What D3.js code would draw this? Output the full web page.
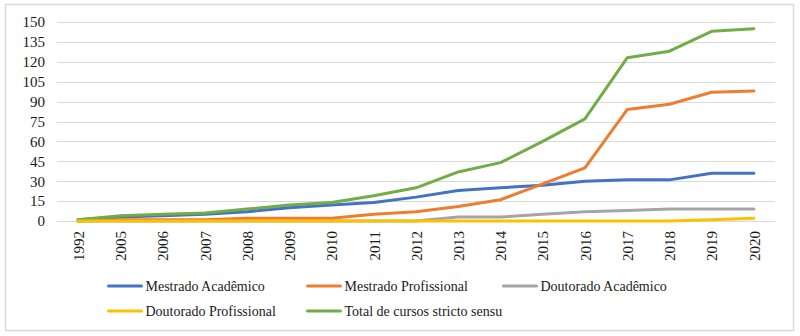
<!DOCTYPE html>
<html>
<head>
<meta charset="utf-8">
<script src="https://cdn.jsdelivr.net/npm/d3@7"></script>
<style>
  body { margin: 0; background: #fff; }
  text { font-family: "Liberation Serif", "Times New Roman", serif; }
</style>
</head>
<body>
<svg id="chart" width="800" height="336"></svg>
<script>
var years = ["1992","2005","2006","2007","2008","2009","2010","2011","2012","2013","2014","2015","2016","2017","2018","2019","2020"];
var mestradoAcademico    = [1, 3, 4, 5, 7, 10, 12, 14, 18, 23, 25, 27, 30, 31, 31, 36, 36];
var mestradoProfissional = [0, 1, 1, 1, 2, 2, 2, 5, 7, 11, 16, 28, 40, 84, 88, 97, 98];
var doutoradoAcademico   = [0, 0, 0, 0, 0, 0, 0, 0, 0, 3, 3, 5, 7, 8, 9, 9, 9];
var doutoradoProfissional= [0, 0, 0, 0, 0, 0, 0, 0, 0, 0, 0, 0, 0, 0, 0, 1, 2];
var totalCursos          = [1, 4, 5, 6, 9, 12, 14, 19, 25, 37, 44, 60, 77, 123, 128, 143, 145];
var yTicks = [0, 15, 30, 45, 60, 75, 90, 105, 120, 135, 150];

// drawing order: last on top
var series = [
  {name: "Doutorado Acadêmico", values: doutoradoAcademico, color: "#A5A5A5"},
  {name: "Mestrado Acadêmico", values: mestradoAcademico, color: "#4472C4"},
  {name: "Mestrado Profissional", values: mestradoProfissional, color: "#ED7D31"},
  {name: "Total de cursos stricto sensu", values: totalCursos, color: "#70AD47"},
  {name: "Doutorado Profissional", values: doutoradoProfissional, color: "#FFC000"}
];

var svg = d3.select("#chart");

// outer frame
svg.append("rect")
  .attr("x", 5.5).attr("y", 4.5)
  .attr("width", 788).attr("height", 326)
  .attr("fill", "none").attr("stroke", "#d9d9d9").attr("stroke-width", 1.5);

var plotLeft = 57, plotRight = 775, plotTop = 22, plotBottom = 221;

var x = d3.scalePoint().domain(years).range([plotLeft, plotRight]).padding(0.5);
var y = d3.scaleLinear().domain([0, 150]).range([plotBottom, plotTop]);

// gridlines
svg.append("g").selectAll("line").data(yTicks).enter().append("line")
  .attr("x1", plotLeft).attr("x2", plotRight)
  .attr("y1", function(d) { return Math.round(y(d)) + 0.5; })
  .attr("y2", function(d) { return Math.round(y(d)) + 0.5; })
  .attr("stroke", "#d9d9d9").attr("stroke-width", 1.2);

// y axis labels
var yAxis = svg.append("g")
  .attr("transform", "translate(" + (plotLeft - 12) + ",0)")
  .call(d3.axisLeft(y).tickValues(yTicks).tickSize(0).tickPadding(0));
yAxis.attr("font-family", null);
yAxis.select(".domain").remove();
yAxis.selectAll("text")
  .attr("font-size", 15).attr("fill", "#1a1a1a");

// x axis labels (rotated)
var xAxis = svg.append("g")
  .attr("transform", "translate(0," + plotBottom + ")")
  .call(d3.axisBottom(x).tickSize(0).tickPadding(0));
xAxis.attr("font-family", null);
xAxis.select(".domain").remove();
xAxis.selectAll("text")
  .attr("font-size", 15).attr("fill", "#1a1a1a")
  .attr("text-anchor", "end")
  .attr("y", 0)
  .attr("dy", "0.35em")
  .attr("transform", "translate(0,10) rotate(-90)");

// lines
var line = d3.line()
  .x(function(d, i) { return x(years[i]); })
  .y(function(d) { return y(d); });

svg.append("g").selectAll("path").data(series).enter().append("path")
  .attr("d", function(d) { return line(d.values); })
  .attr("fill", "none")
  .attr("stroke", function(d) { return d.color; })
  .attr("stroke-width", 3)
  .attr("stroke-linejoin", "round")
  .attr("stroke-linecap", "round");

// legend
var legendItems = [
  {name: "Mestrado Acadêmico", color: "#4472C4", x: 108.5, y: 286},
  {name: "Mestrado Profissional", color: "#ED7D31", x: 307.5, y: 286},
  {name: "Doutorado Acadêmico", color: "#A5A5A5", x: 503.5, y: 286},
  {name: "Doutorado Profissional", color: "#FFC000", x: 108.5, y: 311},
  {name: "Total de cursos stricto sensu", color: "#70AD47", x: 307.5, y: 311}
];
var lg = svg.append("g").selectAll("g").data(legendItems).enter().append("g")
  .attr("transform", function(d) { return "translate(" + d.x + "," + d.y + ")"; });
lg.append("line")
  .attr("x1", 0).attr("x2", 33).attr("y1", 0).attr("y2", 0)
  .attr("stroke", function(d) { return d.color; })
  .attr("stroke-width", 3).attr("stroke-linecap", "round");
lg.append("text")
  .attr("x", 37).attr("dy", "0.35em")
  .attr("font-size", 14).attr("fill", "#1a1a1a")
  .text(function(d) { return d.name; });
</script>
</body>
</html>
